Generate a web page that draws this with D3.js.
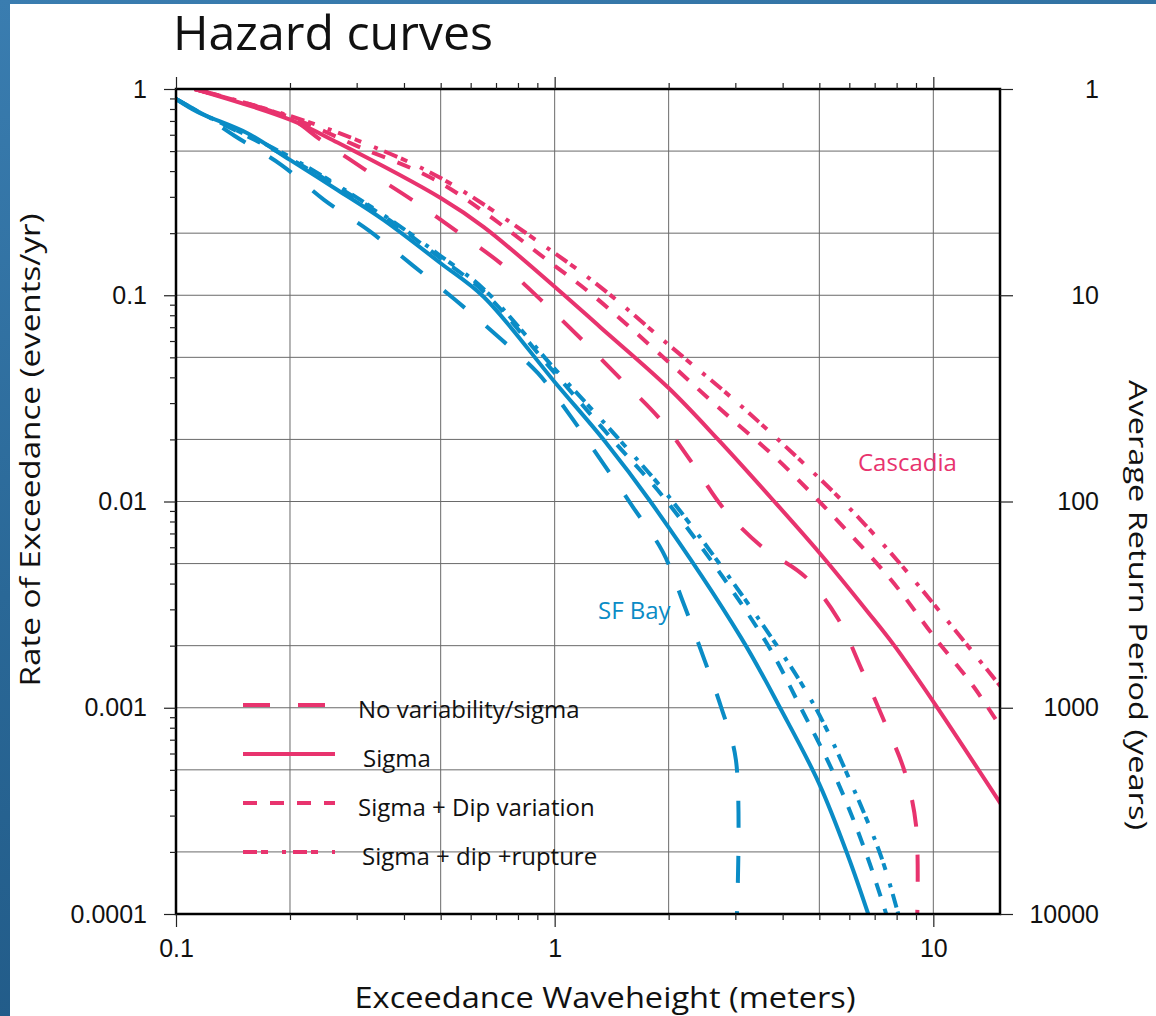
<!DOCTYPE html>
<html lang="en">
<head>
<meta charset="utf-8">
<title>Hazard curves</title>
<script src="https://d3js.org/d3.v7.min.js"></script>
<style>
  html, body { margin: 0; padding: 0; }
  body {
    width: 1156px; height: 1016px; overflow: hidden;
    background: linear-gradient(165deg, #3a7db0 0%, #2a6897 45%, #1d5480 100%);
  }
  #chart { position: absolute; left: 0; top: 0; }
  .tick text { font-family: "Liberation Sans", Arial, sans-serif; font-size: 25px; fill: #111; }
  .tick line { stroke: #222; stroke-width: 1.2; }
  .label { font-family: "Open Sans", sans-serif; fill: #111; }
</style>
</head>
<body>
<div id="chart"></div>
<script>
// exceedance rate curves: [waveheight (m), rate (events/yr)]
const cascadiaNoSigma = [[0.112, 1], [0.2, 0.72], [0.24, 0.57], [0.32, 0.40], [0.42, 0.29], [0.56, 0.20],
  [0.73, 0.14], [0.93, 0.093], [1.19, 0.060], [1.5, 0.039], [1.9, 0.025], [2.3, 0.0155], [2.8, 0.0092],
  [3.5, 0.0061], [4.6, 0.0043], [5.6, 0.0027], [6.5, 0.0015], [7.4, 0.00087], [8.4, 0.00049],
  [9.0, 0.00027], [9.07, 0.0001]];
const cascadiaSigma = [[0.112, 1], [0.2, 0.71], [0.267, 0.55], [0.5, 0.296], [0.65, 0.214], [1, 0.11],
  [1.32, 0.070], [2, 0.0355], [2.7, 0.020], [3.73, 0.0104], [5.02, 0.0056], [6.73, 0.0029],
  [7.89, 0.0020], [10.07, 0.00105], [15.1, 0.00034]];
const cascadiaDip = [[0.112, 1], [0.2, 0.73], [0.3, 0.53], [0.5, 0.35], [1, 0.139], [1.27, 0.099],
  [2, 0.0474], [2.7, 0.0287], [3.89, 0.0159], [5.47, 0.0084], [7.74, 0.00416], [10.07, 0.0022],
  [12.8, 0.00126], [15.1, 0.0008]];
const cascadiaRupture = [[0.112, 1], [0.2, 0.74], [0.3, 0.566], [0.5, 0.37], [1, 0.16], [1.36, 0.105],
  [2, 0.0575], [2.92, 0.0321], [4.03, 0.0188], [5.71, 0.0102], [7.74, 0.0056], [10.7, 0.00275],
  [15.1, 0.00126]];

const sfNoSigma = [[0.1, 0.894], [0.116, 0.765], [0.143, 0.592], [0.19, 0.428], [0.246, 0.29],
  [0.324, 0.205], [0.421, 0.14], [0.547, 0.0948], [0.706, 0.0634], [0.902, 0.042], [1.10, 0.026],
  [1.33, 0.0157], [1.61, 0.0094], [1.93, 0.0057], [2.19, 0.0032], [2.46, 0.0018], [2.75, 0.00101],
  [3.01, 0.00056], [3.03, 0.0001]];
const sfSigma = [[0.1, 0.894], [0.114, 0.774], [0.154, 0.612], [0.2, 0.453], [0.267, 0.324],
  [0.353, 0.232], [0.5, 0.143], [0.65, 0.098], [1, 0.038], [1.36, 0.0195], [1.79, 0.01],
  [3.1, 0.0022], [3.96, 0.00098], [4.99, 0.00043], [5.96, 0.00019], [6.73, 0.0001]];
const sfDip = [[0.1, 0.894], [0.114, 0.78], [0.2, 0.46], [0.353, 0.242], [0.5, 0.151], [0.65, 0.104],
  [1, 0.042], [1.42, 0.02], [1.98, 0.01], [3.55, 0.0022], [4.48, 0.00099], [5.61, 0.00043],
  [6.69, 0.00019], [7.51, 0.0001]];
const sfRupture = [[0.1, 0.894], [0.114, 0.78], [0.2, 0.468], [0.353, 0.245], [0.5, 0.155], [0.65, 0.107],
  [1, 0.044], [1.48, 0.02], [2.05, 0.01], [3.73, 0.0022], [4.9, 0.00099], [6.07, 0.00043],
  [7.28, 0.00019], [8.08, 0.0001]];

// axis ticks and labels
const xMajor = [0.1, 1, 10];
const xLabels = ["0.1", "1", "10"];
const yMajor = [1, 0.1, 0.01, 0.001, 0.0001];
const yLabels = ["1", "0.1", "0.01", "0.001", "0.0001"];
const returnPeriodLabels = ["1", "10", "100", "1000", "10000"];
const xGrid = [0.2, 0.5, 1, 2, 5, 10];
const yGrid = [0.5, 0.2, 0.1, 0.05, 0.02, 0.01, 0.005, 0.002, 0.001, 0.0005, 0.0002];

const legendLabels = ["No variability/sigma", "Sigma", "Sigma + Dip variation", "Sigma + dip +rupture"];

const pink = "#e8336e";
const blue = "#0a8cc6";
const dashes = ["27,28", null, "14,13", "14,4,7,14,4,7"];

const series = [
  { data: cascadiaNoSigma, color: pink, dash: dashes[0] },
  { data: cascadiaSigma, color: pink, dash: dashes[1] },
  { data: cascadiaDip, color: pink, dash: dashes[2] },
  { data: cascadiaRupture, color: pink, dash: dashes[3] },
  { data: sfNoSigma, color: blue, dash: dashes[0] },
  { data: sfSigma, color: blue, dash: dashes[1] },
  { data: sfDip, color: blue, dash: dashes[2] },
  { data: sfRupture, color: blue, dash: dashes[3] }
];

const width = 1156, height = 1016;
const plot = { left: 176, right: 1000, top: 89, bottom: 914 };

const svg = d3.select("#chart").append("svg")
  .attr("width", width)
  .attr("height", height);

// white slide panel
svg.append("rect")
  .attr("x", 10).attr("y", 4)
  .attr("width", width - 10).attr("height", height - 4)
  .attr("fill", "#fff");

const x = d3.scaleLog().domain([0.1, 15]).range([plot.left, plot.right]);
const y = d3.scaleLog().domain([0.0001, 1]).range([plot.bottom, plot.top]);

// 2..9 within each decade
function minorTicks(lo, hi) {
  const out = [];
  for (let d = lo; d < hi; d *= 10) {
    for (let k = 2; k <= 9; k++) {
      const v = +(d * k).toPrecision(3);
      if (v <= hi) out.push(v);
    }
  }
  return out;
}

// grid
const grid = svg.append("g").attr("stroke", "#6a6a6a").attr("stroke-width", 1);
grid.selectAll(".gx").data(xGrid).join("line")
  .attr("x1", d => x(d)).attr("x2", d => x(d))
  .attr("y1", plot.top).attr("y2", plot.bottom);
grid.selectAll(".gy").data(yGrid).join("line")
  .attr("x1", plot.left).attr("x2", plot.right)
  .attr("y1", d => y(d)).attr("y2", d => y(d));

svg.append("clipPath").attr("id", "plot-clip")
  .append("rect")
  .attr("x", plot.left).attr("y", plot.top)
  .attr("width", plot.right - plot.left).attr("height", plot.bottom - plot.top);

const line = d3.line()
  .x(d => x(d[0]))
  .y(d => y(d[1]))
  .curve(d3.curveCatmullRom.alpha(0.5));

svg.append("g").attr("clip-path", "url(#plot-clip)")
  .selectAll("path").data(series).join("path")
  .attr("d", d => line(d.data))
  .attr("fill", "none")
  .attr("stroke", d => d.color)
  .attr("stroke-width", 4)
  .attr("stroke-dasharray", d => d.dash);

// frame
svg.append("rect")
  .attr("x", plot.left).attr("y", plot.top)
  .attr("width", plot.right - plot.left).attr("height", plot.bottom - plot.top)
  .attr("fill", "none").attr("stroke", "#000").attr("stroke-width", 2.5);

// axes
function addAxis(axis, tx, ty) {
  const g = svg.append("g").attr("transform", `translate(${tx},${ty})`).call(axis);
  g.select(".domain").remove();
  return g;
}

addAxis(d3.axisBottom(x).tickValues(xMajor).tickSize(13).tickPadding(12)
  .tickFormat((d, i) => xLabels[i]), 0, plot.bottom);
addAxis(d3.axisBottom(x).tickValues(minorTicks(0.1, 15)).tickSize(6).tickFormat(""), 0, plot.bottom);
addAxis(d3.axisTop(x).tickValues(xMajor).tickSize(12).tickFormat(""), 0, plot.top);
addAxis(d3.axisTop(x).tickValues(minorTicks(0.1, 15)).tickSize(6).tickFormat(""), 0, plot.top);

addAxis(d3.axisLeft(y).tickValues(yMajor).tickSize(12).tickPadding(17)
  .tickFormat((d, i) => yLabels[i]), plot.left, 0);
addAxis(d3.axisLeft(y).tickValues(minorTicks(0.0001, 1)).tickSize(6).tickFormat(""), plot.left, 0);

const right = addAxis(d3.axisRight(y).tickValues(yMajor).tickSize(13).tickPadding(86)
  .tickFormat((d, i) => returnPeriodLabels[i]), plot.right, 0);
right.selectAll("text").attr("text-anchor", "end");

// titles
svg.append("text").attr("class", "label")
  .attr("x", 173).attr("y", 50)
  .attr("font-size", 48)
  .attr("textLength", 320).attr("lengthAdjust", "spacingAndGlyphs")
  .text("Hazard curves");

svg.append("text").attr("class", "label")
  .attr("x", 605).attr("y", 1008)
  .attr("text-anchor", "middle")
  .attr("font-size", 29)
  .attr("textLength", 501).attr("lengthAdjust", "spacingAndGlyphs")
  .text("Exceedance Waveheight (meters)");

svg.append("text").attr("class", "label")
  .attr("transform", "translate(40,450) rotate(-90)")
  .attr("text-anchor", "middle")
  .attr("font-size", 28)
  .attr("textLength", 473).attr("lengthAdjust", "spacingAndGlyphs")
  .text("Rate of Exceedance (events/yr)");

svg.append("text").attr("class", "label")
  .attr("transform", "translate(1129,605) rotate(90)")
  .attr("text-anchor", "middle")
  .attr("font-size", 26)
  .attr("textLength", 450).attr("lengthAdjust", "spacingAndGlyphs")
  .text("Average Return Period (years)");

// region labels
svg.append("text").attr("class", "label")
  .attr("x", 858).attr("y", 471)
  .attr("font-size", 24)
  .style("fill", pink)
  .text("Cascadia");
svg.append("text").attr("class", "label")
  .attr("x", 598).attr("y", 619)
  .attr("font-size", 24)
  .style("fill", blue)
  .text("SF Bay");

// legend
const legendY = [705, 754, 803, 852];
const legendTextX = [358, 363, 358, 362];
const legend = svg.append("g").selectAll("g").data(legendLabels).join("g")
  .attr("transform", (d, i) => `translate(0,${legendY[i]})`);
legend.append("line")
  .attr("x1", 243).attr("x2", 335)
  .attr("stroke", pink).attr("stroke-width", 4)
  .attr("stroke-dasharray", (d, i) => dashes[i]);
legend.append("text").attr("class", "label")
  .attr("x", (d, i) => legendTextX[i]).attr("y", 13)
  .attr("font-size", 24)
  .text(d => d);
</script>
</body>
</html>
